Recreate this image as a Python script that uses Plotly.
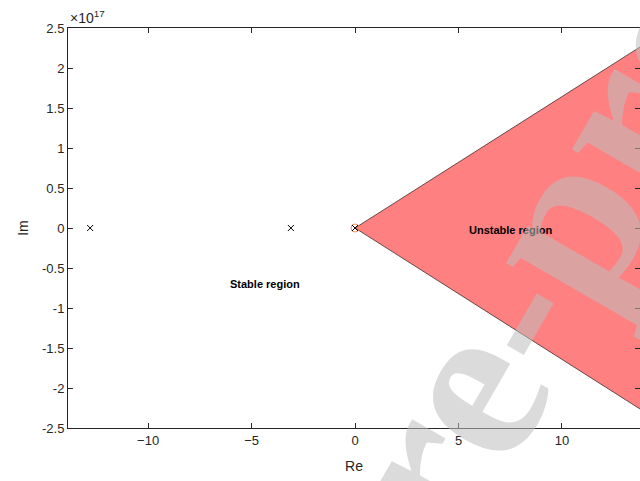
import plotly.graph_objects as go

# Pole locations (real, imaginary)
pole_re = [-12.8, -3.1, 0.0]
pole_im = [0.0, 0.0, 0.0]

# Zero at the origin
zero_re = [0.0]
zero_im = [0.0]

# Unstable sector boundary (vertices of the shaded region)
region_re = [0.0, 14.0, 14.0, 0.0]
region_im = [0.0, 2.3e17, -2.3e17, 0.0]

# Axis ticks
x_ticks = [-10, -5, 0, 5, 10]
y_ticks = [-2.5e17, -2e17, -1.5e17, -1e17, -0.5e17, 0, 0.5e17, 1e17, 1.5e17, 2e17, 2.5e17]
y_tick_text = ["-2.5", "-2", "-1.5", "-1", "-0.5", "0", "0.5", "1", "1.5", "2", "2.5"]

AX = "#262626"
FONT = "Liberation Sans, Arial, Helvetica, sans-serif"

fig = go.Figure()

fig.add_trace(go.Scatter(
    x=region_re, y=region_im, mode="lines", fill="toself",
    fillcolor="#ff8080", line=dict(color="black", width=0.6),
    hoverinfo="skip", showlegend=False,
))

fig.add_trace(go.Scatter(
    x=zero_re, y=zero_im, mode="markers",
    marker=dict(symbol="circle-open", size=8, color="#f08a5d", line=dict(width=1)),
    showlegend=False,
))

fig.add_trace(go.Scatter(
    x=pole_re, y=pole_im, mode="markers",
    marker=dict(symbol="x-thin-open", size=6, color="black", line=dict(width=1, color="black")),
    showlegend=False,
))

fig.update_layout(
    width=640, height=481,
    margin=dict(l=68, r=0, t=28, b=53),
    paper_bgcolor="white", plot_bgcolor="white",
    font=dict(family=FONT, size=13, color=AX),
    showlegend=False,
)

fig.update_xaxes(
    range=[-13.87, 13.77], tickvals=x_ticks,
    showgrid=False, zeroline=False,
    showline=True, linecolor=AX, linewidth=1, mirror="ticks",
    ticks="inside", ticklen=5, tickcolor=AX, tickwidth=1,
    tickfont=dict(size=13, color=AX),
    title=dict(text="Re", font=dict(size=14, color=AX), standoff=14),
)
fig.update_yaxes(
    range=[-2.5e17, 2.5e17], tickvals=y_ticks, ticktext=y_tick_text,
    showgrid=False, zeroline=False,
    showline=True, linecolor=AX, linewidth=1, mirror="ticks",
    ticks="inside", ticklen=5, tickcolor=AX, tickwidth=1,
    tickfont=dict(size=13, color=AX),
    title=dict(text="Im", font=dict(size=14, color=AX), standoff=10),
)

# Exponent label for the imaginary axis
fig.add_annotation(
    x=0, y=1, xref="paper", yref="paper", xanchor="left", yanchor="bottom",
    text="\u00d710<sup>17</sup>", showarrow=False, yshift=0,
    font=dict(size=14, color=AX),
)

# Region labels
fig.add_annotation(
    x=-6.13, y=-0.7e17, xref="x", yref="y", xanchor="left", yanchor="middle",
    text="<b>Stable region</b>", showarrow=False,
    font=dict(size=11, color="black"),
)
fig.add_annotation(
    x=5.4, y=-0.03e17, xref="x", yref="y", xanchor="left", yanchor="middle",
    text="<b>Unstable region</b>", showarrow=False,
    font=dict(size=11, color="black"),
)

# Watermark
fig.add_annotation(
    x=318 / 640, y=1 - 670 / 481, xref="paper", yref="paper",
    xanchor="center", yanchor="middle",
    text="<b>Journal Pre-proof</b>", showarrow=False, textangle=-60,
    font=dict(family="Liberation Serif, Times New Roman, serif", size=230,
              color="rgba(189,189,189,0.55)"),
)

fig.write_html("out.html")
